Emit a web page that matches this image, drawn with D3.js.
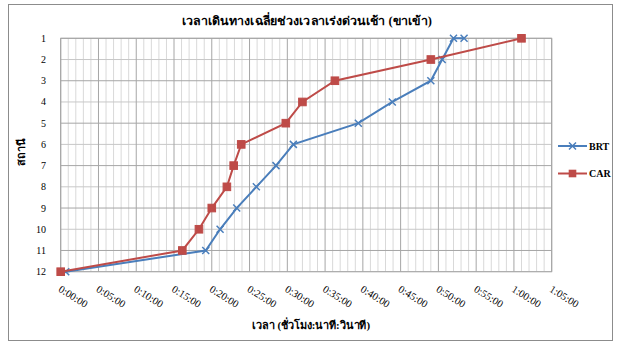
<!DOCTYPE html>
<html>
<head>
<meta charset="utf-8">
<script src="https://cdn.jsdelivr.net/npm/d3@7/dist/d3.min.js"></script>
<style>
html,body{margin:0;padding:0;background:#fff;}
svg{display:block;font-family:"Liberation Serif","Times New Roman",serif;}
</style>
</head>
<body>
<svg id="chart" width="621" height="345"></svg>
<script>
const stations = [1,2,3,4,5,6,7,8,9,10,11,12];
const xTicks = ["0:00:00","0:05:00","0:10:00","0:15:00","0:20:00","0:25:00","0:30:00","0:35:00","0:40:00","0:45:00","0:50:00","0:55:00","1:00:00","1:05:00"];
const brtStations = [12,11,10,9,8,7,6,5,4,3,2,1,1];
const brtTimes = ["0:00:40","0:19:12","0:21:06","0:23:18","0:25:54","0:28:30","0:30:48","0:39:24","0:43:54","0:49:00","0:50:30","0:52:00","0:53:24"];
const carStations = [12,11,10,9,8,7,6,5,4,3,2,1];
const carTimes = ["0:00:00","0:16:06","0:18:18","0:20:00","0:22:00","0:22:54","0:23:54","0:29:48","0:32:00","0:36:18","0:49:00","1:01:00"];
const seriesNames = ["BRT","CAR"];
const title = "เวลาเดินทางเฉลี่ยช่วงเวลาเร่งด่วนเช้า (ขาเข้า)";
const xTitle = "เวลา (ชั่วโมง:นาที:วินาที)";
const yTitle = "สถานี";

const toMin = s => { const p = s.split(":").map(Number); return p[0]*60 + p[1] + p[2]/60; };

const svg = d3.select("#chart");
const pL = 60.7, pR = 551.7, pT = 38.3, pB = 271.7;

const x = d3.scaleLinear().domain([0,65]).range([pL,pR]);
const y = d3.scaleLinear().domain([1,12]).range([pT,pB]);

svg.append("rect").attr("x",8.5).attr("y",4.5).attr("width",604).attr("height",336)
  .attr("fill","#fff").attr("stroke","#8c8c8c").attr("stroke-width",1);

const g = svg.append("g");
g.append("g").selectAll("line").data(d3.range(0,66,1).filter(m=>m%5!==0)).join("line")
  .attr("x1",d=>x(d)).attr("x2",d=>x(d)).attr("y1",pT).attr("y2",pB)
  .attr("stroke","#d9d9d9").attr("stroke-width",1);
g.append("g").selectAll("line").data(stations.filter(s=>s%2===0)).join("line")
  .attr("x1",pL).attr("x2",pR).attr("y1",d=>y(d)).attr("y2",d=>y(d))
  .attr("stroke","#c8c8c8").attr("stroke-width",1);
g.append("g").selectAll("line").data(d3.range(0,66,5)).join("line")
  .attr("x1",d=>x(d)).attr("x2",d=>x(d)).attr("y1",pT).attr("y2",pB)
  .attr("stroke","#a6a6a6").attr("stroke-width",1);
g.append("g").selectAll("line").data(stations.filter(s=>s%2===1)).join("line")
  .attr("x1",pL).attr("x2",pR).attr("y1",d=>y(d)).attr("y2",d=>y(d))
  .attr("stroke","#a6a6a6").attr("stroke-width",1);
g.append("rect").attr("x",pL).attr("y",pT).attr("width",pR-pL).attr("height",pB-pT)
  .attr("fill","none").attr("stroke","#a6a6a6").attr("stroke-width",1);

svg.append("g").selectAll("text").data(stations).join("text")
  .attr("x",46).attr("y",d=>y(d)+3.5).attr("text-anchor","end")
  .attr("font-size",10).attr("fill","#000").text(d=>d);

svg.append("g").selectAll("text").data(xTicks).join("text")
  .attr("transform",d=>`translate(${x(toMin(d))-3},${291}) rotate(32)`)
  .attr("text-anchor","start").attr("font-size",10.5).attr("fill","#000").text(d=>d);

svg.append("text").attr("x",307).attr("y",25).attr("text-anchor","middle")
  .attr("font-size",12).attr("font-weight","bold")
  .attr("textLength",250).attr("lengthAdjust","spacingAndGlyphs").text(title);
svg.append("text").attr("x",311).attr("y",329).attr("text-anchor","middle")
  .attr("font-size",11).attr("font-weight","bold")
  .attr("textLength",118).attr("lengthAdjust","spacingAndGlyphs").text(xTitle);
svg.append("text").attr("transform","translate(25,152) rotate(-90)").attr("text-anchor","middle")
  .attr("font-size",11).attr("font-weight","bold").text(yTitle);

const colors = {BRT:"#4a7ebb", CAR:"#be4b48"};
const line = d3.line().x(d=>x(d.t)).y(d=>y(d.s));
const brt = brtTimes.map((t,i)=>({t:toMin(t), s:brtStations[i]}));
const car = carTimes.map((t,i)=>({t:toMin(t), s:carStations[i]}));

function xMarker(sel, cx, cy, r, c){
  sel.append("path").attr("d",`M${cx-r},${cy-r}L${cx+r},${cy+r}M${cx-r},${cy+r}L${cx+r},${cy-r}`)
    .attr("stroke",c).attr("stroke-width",1.5).attr("fill","none");
}

svg.append("path").datum(brt).attr("d",line).attr("fill","none").attr("stroke",colors.BRT).attr("stroke-width",2);
const bm = svg.append("g");
brt.forEach(d=>xMarker(bm, x(d.t), y(d.s), 3.5, colors.BRT));
svg.append("path").datum(car).attr("d",line).attr("fill","none").attr("stroke",colors.CAR).attr("stroke-width",2);
svg.append("g").selectAll("rect").data(car).join("rect")
  .attr("x",d=>x(d.t)-3.8).attr("y",d=>y(d.s)-3.8).attr("width",7.6).attr("height",7.6)
  .attr("fill",colors.CAR).attr("stroke",colors.CAR);

const leg = svg.append("g");
seriesNames.forEach((n,i)=>{
  const ly = 146 + i*27.5;
  leg.append("line").attr("x1",558).attr("x2",587).attr("y1",ly).attr("y2",ly)
    .attr("stroke",colors[n]).attr("stroke-width",2);
  if(n==="BRT") xMarker(leg, 572.5, ly, 3.5, colors[n]);
  else leg.append("rect").attr("x",572.5-3.8).attr("y",ly-3.8).attr("width",7.6).attr("height",7.6).attr("fill",colors[n]);
  leg.append("text").attr("x",589).attr("y",ly+3.5).attr("font-size",10).attr("font-weight","bold").text(n);
});
</script>
</body>
</html>
